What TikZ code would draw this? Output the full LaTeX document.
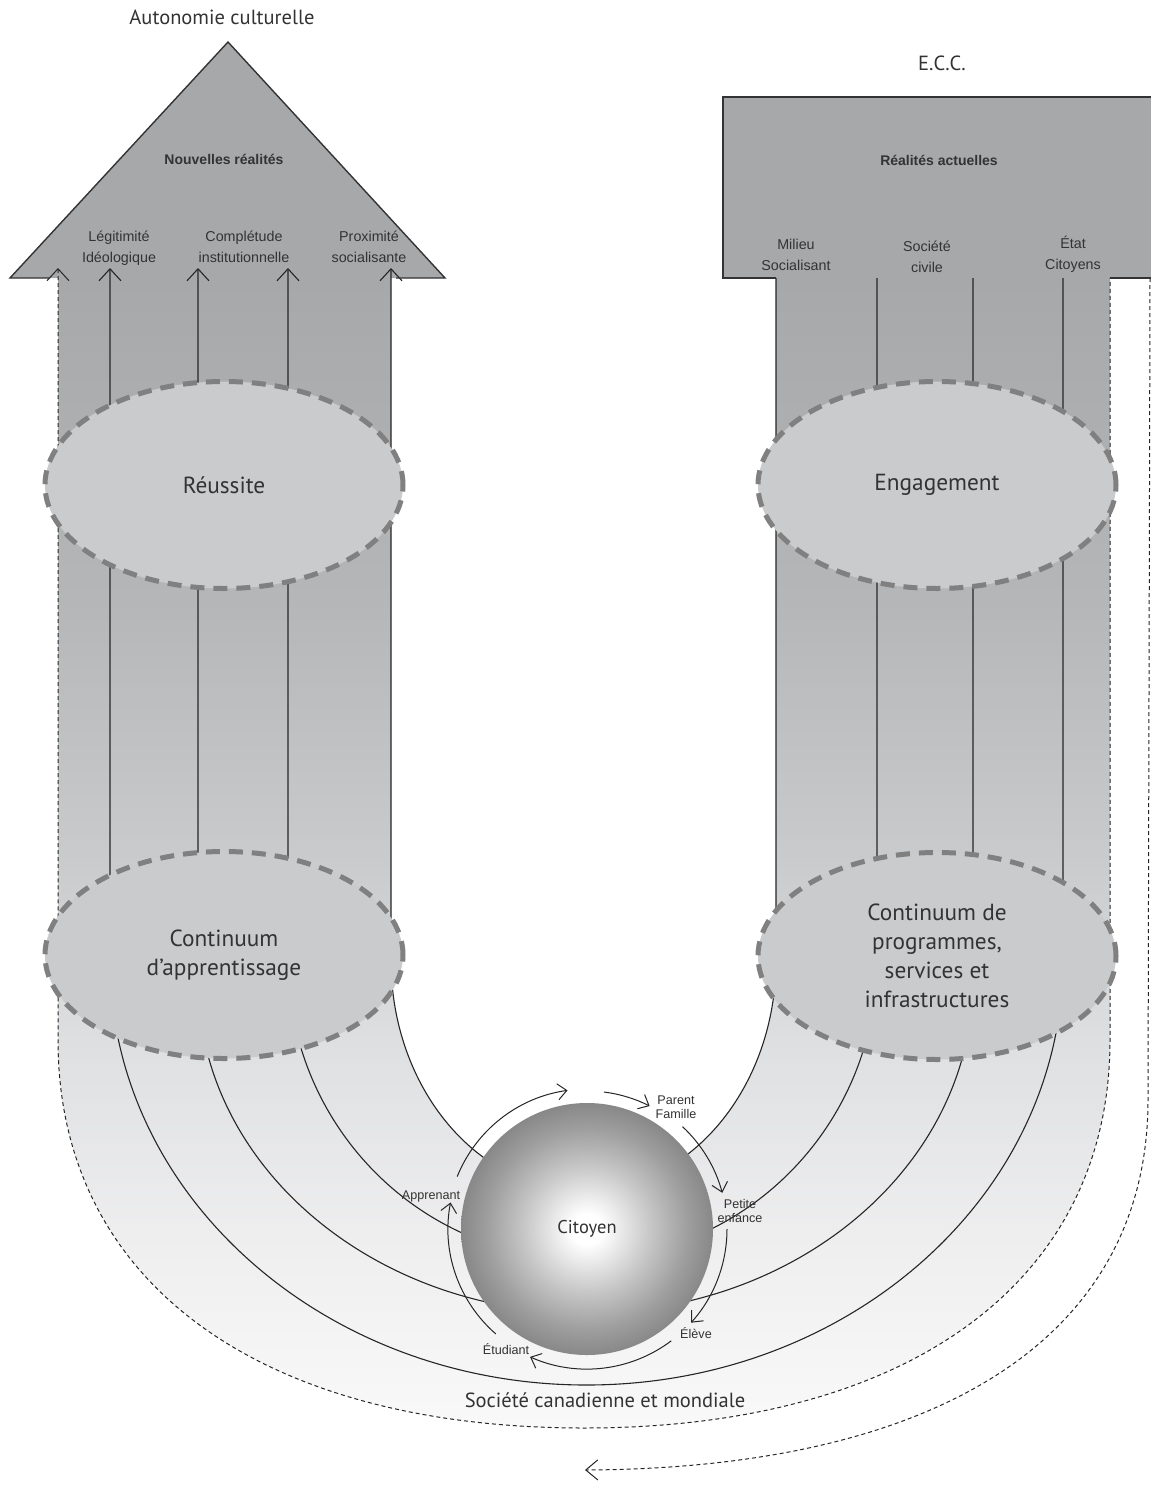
\documentclass[tikz,border=0pt]{standalone}
\usepackage{fontspec}
\setmainfont{PT Sans}
\newfontfamily\labfont{Liberation Sans}
\usetikzlibrary{arrows.meta,shapes.geometric}
\definecolor{headgray}{HTML}{A7A8AA}
\definecolor{ellfill}{HTML}{CACBCD}
\definecolor{ellline}{HTML}{808080}
\definecolor{txt}{HTML}{333333}
\definecolor{bandA}{HTML}{A7A8AA}
\definecolor{bandB}{HTML}{B5B6B8}
\definecolor{bandC}{HTML}{C9CACC}
\definecolor{bandD}{HTML}{DFE0E2}
\definecolor{bandE}{HTML}{EFEFF0}
\definecolor{bandF}{HTML}{F9F9F9}
\definecolor{citmid}{HTML}{C4C4C4}
\definecolor{citdark}{HTML}{9E9E9E}
\definecolor{citedge}{HTML}{888888}
\pgfdeclareverticalshading{bandshade}{100bp}{color(0bp)=(bandF); color(25bp)=(bandF); color(32.7bp)=(bandE); color(41.4bp)=(bandD); color(50bp)=(bandC); color(61bp)=(bandB); color(75bp)=(bandA); color(100bp)=(bandA)}
\pgfdeclareradialshading{citshade}{\pgfpoint{0bp}{0bp}}{color(0bp)=(white); color(3bp)=(white); color(13bp)=(citmid); color(20bp)=(citdark); color(25bp)=(citedge); color(50bp)=(citedge)}
\newcommand\ellfont{\fontsize{23.3}{29}\selectfont}
\newcommand\lbsize{\labfont\fontsize{14.3}{21}\selectfont}
\newcommand\cirsize{\labfont\fontsize{12.6}{14.5}\selectfont}
\tikzset{
  uline/.style={line width=1.1pt, draw=black!85},
  dline/.style={line width=1pt, dash pattern=on 4pt off 3pt, draw=black!85},
  outl/.style={line width=1.4pt, draw=black!80},
  ell/.style={ellipse, minimum width=358pt, minimum height=207pt, fill=ellfill, draw=ellline, line width=5pt, dash pattern=on 14pt off 9pt, inner sep=0pt, font=\ellfont, text=txt, align=center},
  lbl/.style={font=\lbsize, text=txt, align=center, inner sep=0pt},
  clbl/.style={font=\cirsize, text=txt, align=center, inner sep=0pt},
  cyc/.style={line width=1pt, draw=black!85},
  ctip/.style={-{Straight Barb[length=9pt,width=16pt]}},
  utip/.style={{Straight Barb[length=12pt,width=22pt]}-},
}
\begin{document}
\begin{tikzpicture}[x=1pt,y=-1pt]
\useasboundingbox (0,0) rectangle (1151,1488);
% gray heads
\fill[headgray] (10,278) -- (228,42) -- (445,278) -- cycle;
\fill[headgray] (723,97) rectangle (1151,278);
% band
\shade[shading=bandshade] (58,278) -- (58,1040) .. controls (58,1281) and (258,1428) .. (584,1428) .. controls (910,1428) and (1110,1281) .. (1110,1040) -- (1110,278) -- (776,278) -- (776,960) arc[start angle=0, end angle=58.5, x radius=192.5, y radius=231] -- (483,1157) arc[start angle=121.5, end angle=180, x radius=192.5, y radius=231] -- (391,278) -- cycle;
% named end points
\coordinate (l0) at (58,268);
\coordinate (l1) at (110,268);
\coordinate (l2) at (198,268);
\coordinate (l3) at (288,268);
\coordinate (l4) at (391,268);
\coordinate (r4) at (776,278);
\coordinate (r3) at (877,278);
\coordinate (r2) at (973,278);
\coordinate (r1) at (1063,278);
\coordinate (r0) at (1110,278);
\coordinate (o0) at (1150,278);
\coordinate (o1) at (585,1470);
% U lines
\draw[uline, utip] (l1) -- (110,960) arc[start angle=180, end angle=0, x radius=476.5, y radius=425] -- (r1);
\draw[uline, utip] (l2) -- (198,980) arc[start angle=180, end angle=0, x radius=387.5, y radius=333] -- (r2);
\draw[uline, utip] (l3) -- (288,960) arc[start angle=180, end angle=0, x radius=294.5, y radius=299] -- (r3);
\draw[uline, utip] (l4) -- (391,960) arc[start angle=180, end angle=0, x radius=192.5, y radius=231] -- (r4);
% dashed lines
\draw[dline, utip] (l0) -- (58,1040) .. controls (58,1281) and (258,1428) .. (584,1428) .. controls (910,1428) and (1110,1281) .. (1110,1040) -- (r0);
\draw[dline, -{Straight Barb[length=12pt,width=20pt]}] (o0) -- (1148,1100) .. controls (1148,1330) and (950,1468) .. (o1);
% outlines
\draw[outl] (50,278) -- (10,278) -- (228,42) -- (445,278) -- (396,278);
\draw[outl] (r4) -- (723,278) -- (723,97) -- (1151,97);
\draw[outl] (r0) -- (1151,278);
% ellipses
\node[ell] (reussite) at (224,485) {Réussite};
\node[ell] (engag) at (937,485) {Engagement};
\node[ell] (contapp) at (224,955) {Continuum\\d’apprentissage};
\node[ell] (contprog) at (937,956) {Continuum de\\programmes,\\services et\\infrastructures};
% citizen
\node[circle, minimum size=252pt, inner sep=0pt, shade, shading=citshade, font=\fontsize{18.5}{20}\selectfont, text=txt] (cit) at (587,1229) {Citoyen};
% cycle arrows
\draw[cyc, ctip] ([shift={(-158:140)}]cit.center) arc[start angle=-158, end angle=-98, radius=140];
\draw[cyc, ctip] ([shift={(-83:138)}]cit.center) arc[start angle=-83, end angle=-63, radius=138];
\draw[cyc, ctip] ([shift={(-47:140)}]cit.center) arc[start angle=-47, end angle=-15, radius=140];
\draw[cyc, ctip] ([shift={(0:140)}]cit.center) arc[start angle=0, end angle=42, radius=140];
\draw[cyc, ctip] ([shift={(53:140)}]cit.center) arc[start angle=53, end angle=114, radius=140];
\draw[cyc, ctip] ([shift={(131:139)}]cit.center) arc[start angle=131, end angle=191, radius=139];
% circle labels
\node[clbl] (parent) at (676,1107) {Parent\\Famille};
\node[clbl] (petite) at (740,1211) {Petite\\enfance};
\node[clbl] (eleve) at (696,1333) {Élève};
\node[clbl] (etud) at (506,1349) {Étudiant};
\node[clbl] (appr) at (431,1196) {Apprenant};
% top labels
\node[font=\fontsize{20.5}{22}\selectfont, text=txt] (auto) at (222,17) {Autonomie culturelle};
\node[font=\fontsize{20.5}{22}\selectfont, text=txt] (ecc) at (942,63) {E.C.C.};
\node[font=\labfont\bfseries\fontsize{14}{16}\selectfont, text=txt] (nouv) at (224,159) {Nouvelles réalités};
\node[font=\labfont\bfseries\fontsize{14}{16}\selectfont, text=txt] (reala) at (939,160) {Réalités actuelles};
\node[lbl] (legit) at (119,248) {Légitimité\\Idéologique};
\node[lbl] (compl) at (244,247) {Complétude\\institutionnelle};
\node[lbl] (proxi) at (369,247) {Proximité\\socialisante};
\node[lbl] (milieu) at (796,255) {Milieu\\Socialisant};
\node[lbl] (socc) at (927,257) {Société\\civile};
\node[lbl] (etat) at (1073,254) {État\\Citoyens};
\node[font=\fontsize{20.5}{22}\selectfont, text=txt] (soccm) at (605,1400) {Société canadienne et mondiale};
\end{tikzpicture}
\end{document}
